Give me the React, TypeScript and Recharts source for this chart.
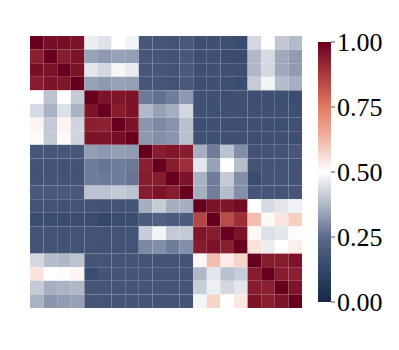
import React from "react";
import {
  Bar,
  BarChart,
  Scatter,
  ScatterChart,
  XAxis,
  YAxis,
} from "recharts";

// correlation matrix, row by row (row 0 at top)
const ROWS: number[][] = [
  [1.0, 0.97, 0.97, 0.96, 0.468, 0.45, 0.5, 0.48, 0.185, 0.18, 0.17, 0.19, 0.155, 0.16, 0.155, 0.145, 0.43, 0.5, 0.4, 0.38],
  [0.933, 1.0, 0.94, 0.96, 0.34, 0.325, 0.34, 0.335, 0.185, 0.18, 0.17, 0.19, 0.155, 0.16, 0.15, 0.145, 0.375, 0.435, 0.35, 0.33],
  [0.97, 0.96, 1.0, 0.96, 0.456, 0.43, 0.485, 0.465, 0.18, 0.18, 0.17, 0.19, 0.155, 0.16, 0.155, 0.15, 0.375, 0.43, 0.35, 0.33],
  [0.94, 0.96, 0.955, 1.0, 0.34, 0.325, 0.34, 0.335, 0.18, 0.18, 0.17, 0.19, 0.155, 0.16, 0.155, 0.145, 0.41, 0.48, 0.383, 0.36],
  [0.5, 0.394, 0.5, 0.405, 1.0, 0.96, 0.955, 0.96, 0.275, 0.26, 0.28, 0.325, 0.16, 0.16, 0.155, 0.16, 0.155, 0.16, 0.155, 0.15],
  [0.435, 0.365, 0.445, 0.365, 0.96, 1.0, 0.94, 0.96, 0.377, 0.34, 0.36, 0.43, 0.16, 0.155, 0.16, 0.16, 0.16, 0.155, 0.16, 0.155],
  [0.517, 0.405, 0.52, 0.425, 0.933, 0.927, 1.0, 0.96, 0.32, 0.3, 0.315, 0.39, 0.155, 0.16, 0.16, 0.155, 0.16, 0.16, 0.155, 0.16],
  [0.509, 0.405, 0.512, 0.425, 0.96, 0.96, 0.97, 1.0, 0.325, 0.31, 0.32, 0.39, 0.16, 0.155, 0.16, 0.16, 0.155, 0.16, 0.16, 0.155],
  [0.18, 0.18, 0.185, 0.18, 0.335, 0.325, 0.335, 0.33, 1.0, 0.94, 0.955, 0.94, 0.36, 0.28, 0.394, 0.31, 0.17, 0.175, 0.175, 0.18],
  [0.17, 0.17, 0.17, 0.17, 0.28, 0.27, 0.28, 0.275, 0.933, 1.0, 0.94, 0.9, 0.456, 0.34, 0.5, 0.385, 0.17, 0.17, 0.175, 0.17],
  [0.17, 0.175, 0.175, 0.17, 0.28, 0.275, 0.28, 0.27, 0.94, 0.94, 1.0, 0.96, 0.365, 0.28, 0.405, 0.31, 0.145, 0.175, 0.175, 0.175],
  [0.19, 0.19, 0.19, 0.19, 0.394, 0.394, 0.405, 0.394, 0.94, 0.96, 0.94, 1.0, 0.36, 0.28, 0.383, 0.31, 0.178, 0.178, 0.178, 0.178],
  [0.17, 0.17, 0.17, 0.17, 0.17, 0.17, 0.17, 0.17, 0.36, 0.41, 0.36, 0.36, 1.0, 0.96, 0.955, 0.976, 0.5, 0.435, 0.455, 0.475],
  [0.145, 0.145, 0.145, 0.145, 0.145, 0.125, 0.145, 0.145, 0.2, 0.22, 0.2, 0.2, 0.85, 1.0, 0.84, 0.9, 0.616, 0.512, 0.546, 0.585],
  [0.17, 0.17, 0.17, 0.17, 0.17, 0.17, 0.17, 0.17, 0.413, 0.48, 0.405, 0.405, 0.955, 0.94, 1.0, 0.96, 0.514, 0.445, 0.456, 0.495],
  [0.17, 0.17, 0.17, 0.17, 0.17, 0.17, 0.17, 0.17, 0.3, 0.31, 0.28, 0.31, 0.94, 0.96, 0.933, 1.0, 0.55, 0.47, 0.5, 0.528],
  [0.43, 0.383, 0.375, 0.394, 0.178, 0.178, 0.178, 0.178, 0.178, 0.178, 0.178, 0.178, 0.51, 0.616, 0.537, 0.576, 1.0, 0.94, 0.94, 0.96],
  [0.55, 0.5, 0.495, 0.52, 0.145, 0.178, 0.178, 0.178, 0.178, 0.178, 0.178, 0.178, 0.375, 0.455, 0.39, 0.413, 0.94, 1.0, 0.94, 0.933],
  [0.405, 0.36, 0.368, 0.375, 0.178, 0.178, 0.178, 0.178, 0.178, 0.178, 0.178, 0.178, 0.413, 0.47, 0.43, 0.455, 0.94, 0.933, 1.0, 0.96],
  [0.365, 0.32, 0.33, 0.34, 0.178, 0.178, 0.178, 0.178, 0.178, 0.178, 0.178, 0.178, 0.48, 0.576, 0.5, 0.54, 0.96, 0.933, 0.96, 1.0],
];

const COLORBAR_TICKS = [0, 0.25, 0.5, 0.75, 1];

// navy -> white -> dark red
const CMAP: [number, [number, number, number]][] = [
  [0, [21, 40, 69]],
  [0.125, [52, 70, 106]],
  [0.25, [90, 106, 139]],
  [0.375, [176, 184, 200]],
  [0.5, [255, 255, 255]],
  [0.625, [241, 184, 166]],
  [0.75, [224, 122, 98]],
  [0.875, [168, 58, 60]],
  [1, [103, 0, 31]],
];

function colorFor(v: number) {
  const t = Math.max(0, Math.min(1, v));
  for (let i = 1; i < CMAP.length; i++) {
    const [p1, c1] = CMAP[i];
    const [p0, c0] = CMAP[i - 1];
    if (t <= p1) {
      const f = (t - p0) / (p1 - p0);
      const c = c0.map((a, k) => Math.round(a + (c1[k] - a) * f));
      return `rgb(${c[0]},${c[1]},${c[2]})`;
    }
  }
  return "rgb(103,0,31)";
}

const N = ROWS.length;
const PLOT = 272;
const CELL = PLOT / N;
const FONT = "Liberation Serif, Times New Roman, serif";

const cells = ROWS.flatMap((row, r) =>
  row.map((v, c) => ({ x: c + 0.5, y: r + 0.5, v }))
);

const HeatCell = (props: any) => {
  const { cx, cy, payload } = props;
  return (
    <rect
      x={cx - CELL / 2}
      y={cy - CELL / 2}
      width={CELL}
      height={CELL}
      fill={colorFor(payload.v)}
      stroke="rgba(255,255,255,0.05)"
      strokeWidth={0.4}
    />
  );
};

export default function App() {
  return (
    <div
      style={{
        position: "fixed",
        left: 0,
        top: 0,
        width: 399,
        height: 350,
        background: "#fff",
      }}
    >
      <div style={{ position: "absolute", left: 0, top: 0 }}>
        <ScatterChart
          width={399}
          height={350}
          margin={{ top: 36, left: 30, right: 97, bottom: 42 }}
        >
          <XAxis type="number" dataKey="x" domain={[0, N]} hide />
          <YAxis type="number" dataKey="y" domain={[0, N]} reversed hide />
          <Scatter
            data={cells}
            shape={HeatCell}
            isAnimationActive={false}
          />
        </ScatterChart>
      </div>
      <div style={{ position: "absolute", left: 0, top: 0 }}>
        <BarChart
          width={399}
          height={350}
          data={[{ name: "cbar", v: 1 }]}
          margin={{ top: 42, left: 318, right: 8, bottom: 48 }}
          barCategoryGap={0}
        >
          <defs>
            <linearGradient id="cbarGrad" x1="0" y1="1" x2="0" y2="0">
              {CMAP.map(([p, c]) => (
                <stop
                  key={p}
                  offset={p}
                  stopColor={`rgb(${c[0]},${c[1]},${c[2]})`}
                />
              ))}
            </linearGradient>
          </defs>
          <XAxis dataKey="name" hide />
          <YAxis
            orientation="right"
            domain={[0, 1]}
            ticks={COLORBAR_TICKS}
            tickFormatter={(t: number) => t.toFixed(2)}
            width={60}
            axisLine={false}
            tickSize={4}
            tickLine={{ stroke: "#555" }}
            tick={{ fill: "#000", fontSize: 26, fontFamily: FONT }}
          />
          <Bar dataKey="v" fill="url(#cbarGrad)" isAnimationActive={false} />
        </BarChart>
      </div>
    </div>
  );
}
